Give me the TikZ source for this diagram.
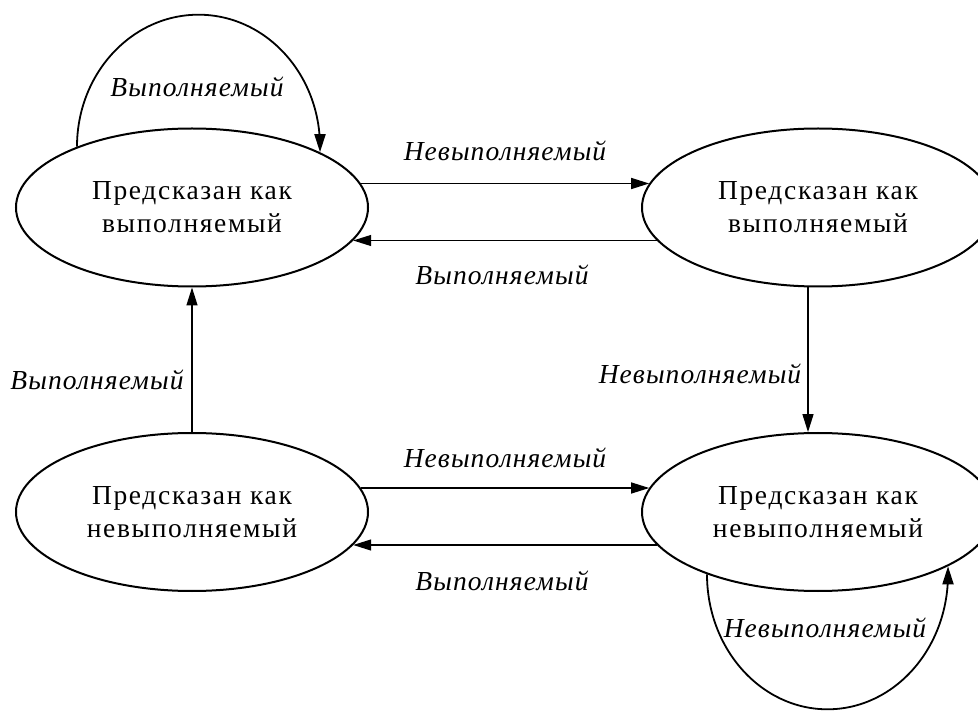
\documentclass[tikz,border=0pt]{standalone}
\usepackage{fontspec}
\setmainfont{Liberation Serif}
\usetikzlibrary{shapes.geometric,arrows.meta,calc}
\begin{document}
\begin{tikzpicture}[x=1pt,y=-1pt,
  state/.style={ellipse,draw,line width=2pt,minimum width=352pt,minimum height=158pt,
    inner sep=0pt,align=center,
    font=\fontsize{27.5}{33}\selectfont\addfontfeature{LetterSpace=6}},
  trans/.style={line width=1.3pt,-{Triangle[length=18pt,width=11pt]}},
  loopline/.style={trans,line width=1.8pt},
  lbl/.style={font=\fontsize{27.5}{33}\selectfont\itshape\addfontfeature{LetterSpace=4},
    inner sep=0pt}
]
\clip (0,0) rectangle (978,711);

% states
\node[state] (A) at (192,207.5) {Предсказан как\\выполняемый};
\node[state] (B) at (818,207.5) {Предсказан как\\выполняемый};
\node[state] (C) at (192,512) {Предсказан как\\невыполняемый};
\node[state] (D) at (818,512) {Предсказан как\\невыполняемый};

% horizontal transitions (points on the outlines, 24pt above / 33pt below centre)
\draw[trans] ($(A.center)+(168.8,-24)$) -- ($(B.center)+(-168.8,-24)$);
\draw[trans] ($(B.center)+(-161.2,33)$) -- ($(A.center)+(161.2,33)$);
\draw[trans] ($(C.center)+(168.8,-24)$) -- ($(D.center)+(-168.8,-24)$);
\draw[trans] ($(D.center)+(-161.2,33)$) -- ($(C.center)+(161.2,33)$);

% vertical transitions
\draw[trans] (C.north) -- (A.south);
\draw[trans] ($(B.center)+(-10,79.9)$) -- ($(D.center)+(-10,-79.9)$);

% self loops: half ellipses leaving and re-entering the outline
\draw[loopline] ($(A.center)+(-115,-60.8)$)
  arc[start angle=180,end angle=360,x radius=121.5,y radius=132]
  -- ($(A.center)+(128,-55.3)$);
\draw[loopline] ($(D.center)+(-111,62.3)$)
  arc[start angle=180,end angle=0,x radius=120.5,y radius=135]
  -- ($(D.center)+(130,54.3)$);

% labels
\node[lbl] (l1) at (197,87) {Выполняемый};
\node[lbl] (l2) at (505,151) {Невыполняемый};
\node[lbl] (l3) at (502,275) {Выполняемый};
\node[lbl] (l4) at (97,380) {Выполняемый};
\node[lbl] (l5) at (700,374) {Невыполняемый};
\node[lbl] (l6) at (505,458) {Невыполняемый};
\node[lbl] (l7) at (502,581) {Выполняемый};
\node[lbl] (l8) at (825,628) {Невыполняемый};
\end{tikzpicture}
\end{document}
